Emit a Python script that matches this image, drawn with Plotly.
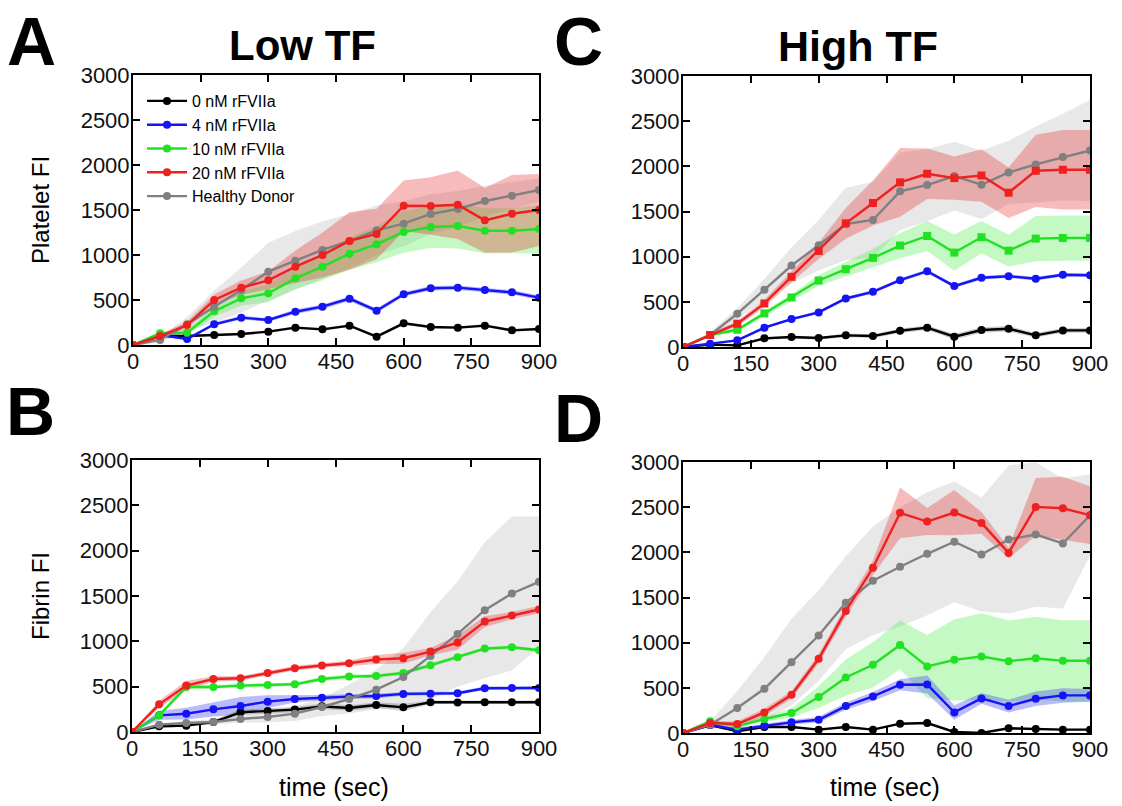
import plotly.graph_objects as go

W, H = 1122, 806

t = [0, 60, 120, 180, 240, 300, 360, 420, 480, 540, 600, 660, 720, 780, 840, 900]

series_names = ["0 nM rFVIIa", "4 nM rFVIIa", "10 nM rFVIIa", "20 nM rFVIIa", "Healthy Donor"]
x_ticks = [0, 150, 300, 450, 600, 750, 900]
y_ticks = [0, 500, 1000, 1500, 2000, 2500, 3000]

# Panel A: platelet FI, low TF
A_0 = [0, 100, 100, 111, 122, 148, 193, 174, 215, 93, 241, 200, 193, 215, 163, 178]
A_4 = [0, 111, 67, 230, 304, 278, 370, 426, 515, 381, 563, 630, 637, 611, 585, 526]
A_10 = [0, 130, 137, 374, 519, 574, 741, 870, 1015, 1119, 1256, 1311, 1322, 1270, 1270, 1289]
A_20 = [0, 100, 222, 500, 637, 719, 870, 1000, 1156, 1233, 1548, 1544, 1559, 1385, 1459, 1500]
A_HD = [0, 56, 230, 426, 611, 815, 937, 1056, 1156, 1274, 1348, 1456, 1511, 1600, 1659, 1722]
A_0_sd = [0, 12, 12, 12, 12, 12, 15, 15, 15, 15, 15, 15, 15, 15, 15, 15]
A_4_sd = [0, 15, 15, 20, 20, 20, 25, 25, 25, 25, 25, 25, 25, 25, 25, 25]
A_10_sd = [0, 20, 30, 60, 80, 100, 120, 150, 180, 200, 230, 230, 250, 250, 250, 270]
A_20_sd = [0, 20, 40, 60, 80, 100, 180, 250, 320, 280, 280, 320, 380, 360, 430, 400]
A_HD_sd = [0, 30, 80, 180, 250, 320, 330, 320, 300, 280, 250, 220, 200, 170, 150, 130]

# Panel C: platelet FI, high TF
C_0 = [0, 26, 18, 96, 110, 99, 129, 121, 180, 214, 114, 188, 202, 129, 184, 184]
C_4 = [0, 37, 74, 214, 309, 383, 537, 611, 740, 839, 674, 766, 784, 755, 799, 795]
C_10 = [0, 133, 191, 372, 548, 736, 861, 986, 1123, 1229, 1045, 1215, 1067, 1200, 1207, 1207]
C_20 = [0, 133, 258, 482, 777, 1064, 1369, 1594, 1822, 1918, 1870, 1899, 1708, 1951, 1962, 1962]
C_HD = [0, 133, 368, 633, 902, 1126, 1362, 1406, 1723, 1793, 1892, 1796, 1933, 2021, 2102, 2175]
C_0_sd = [0, 10, 10, 15, 15, 15, 20, 20, 25, 25, 30, 30, 30, 25, 25, 25]
C_4_sd = [0, 10, 12, 15, 15, 18, 20, 20, 20, 20, 20, 20, 20, 20, 20, 20]
C_10_sd = [0, 15, 20, 30, 40, 60, 80, 100, 140, 165, 200, 180, 175, 250, 250, 250]
C_20_sd = [0, 20, 30, 40, 60, 90, 170, 250, 380, 280, 240, 290, 280, 400, 440, 440]
C_HD_sd = [0, 30, 60, 120, 200, 280, 400, 420, 430, 400, 380, 380, 350, 420, 480, 560]

# Panel B: fibrin FI, low TF
B_0 = [0, 63, 70, 110, 217, 232, 247, 283, 265, 298, 272, 328, 324, 328, 328, 328]
B_4 = [0, 184, 202, 250, 287, 335, 364, 379, 390, 397, 420, 423, 427, 482, 486, 486]
B_10 = [0, 184, 497, 497, 512, 519, 526, 585, 611, 618, 651, 736, 825, 920, 935, 902]
B_20 = [0, 305, 512, 585, 593, 651, 703, 733, 758, 799, 814, 887, 987, 1218, 1285, 1351]
B_HD = [0, 81, 99, 110, 144, 166, 202, 276, 364, 467, 607, 839, 1082, 1344, 1528, 1656]
B_0_sd = [0, 15, 15, 20, 30, 30, 30, 30, 30, 30, 40, 20, 20, 20, 20, 20]
B_4_sd = [0, 50, 65, 80, 100, 70, 40, 30, 25, 25, 20, 20, 20, 20, 20, 20]
B_10_sd = [0, 20, 30, 20, 20, 20, 20, 25, 25, 20, 20, 20, 20, 20, 20, 20]
B_20_sd = [0, 40, 50, 30, 25, 25, 25, 25, 30, 50, 60, 40, 80, 60, 40, 40]
B_HD_sd = [0, 15, 20, 30, 40, 60, 80, 100, 160, 220, 320, 480, 580, 750, 850, 720]

# Panel D: fibrin FI, high TF
D_0 = [0, 88, 18, 66, 66, 37, 66, 37, 103, 110, 11, 0, 52, 44, 37, 37]
D_4 = [0, 88, 37, 81, 118, 147, 298, 405, 534, 537, 228, 383, 298, 379, 416, 416]
D_10 = [0, 129, 74, 155, 221, 398, 615, 755, 975, 736, 810, 847, 795, 828, 799, 799]
D_20 = [0, 110, 99, 228, 423, 821, 1351, 1829, 2437, 2341, 2440, 2326, 1994, 2503, 2488, 2411]
D_HD = [0, 92, 276, 490, 784, 1079, 1443, 1686, 1840, 1984, 2117, 1976, 2142, 2197, 2098, 2411]
D_0_sd = [0, 10, 10, 10, 10, 10, 10, 10, 10, 10, 10, 10, 10, 10, 10, 10]
D_4_sd = [0, 20, 20, 20, 25, 30, 40, 50, 60, 100, 80, 60, 70, 80, 80, 70]
D_10_sd = [0, 15, 20, 30, 50, 120, 200, 250, 270, 350, 450, 480, 450, 460, 450, 450]
D_20_sd = [0, 20, 30, 40, 40, 50, 60, 80, 280, 150, 250, 120, 60, 320, 350, 320]
D_HD_sd = [0, 40, 190, 350, 480, 500, 515, 600, 660, 680, 670, 630, 820, 800, 720, 450]

line_colors = ["#000000", "#1414f5", "#22e022", "#ee2020", "#808080"]
band_colors = ["rgba(90,90,90,0.30)", "rgba(60,60,240,0.35)", "rgba(60,235,60,0.30)",
               "rgba(230,50,50,0.33)", "rgba(190,190,190,0.35)"]

FONT = "Arial, Liberation Sans, sans-serif"

panels = [
    # name, means, sds, x-domain px, y-domain px (top, bottom), symbols
    ("A", [A_0, A_4, A_10, A_20, A_HD], [A_0_sd, A_4_sd, A_10_sd, A_20_sd, A_HD_sd],
     (133, 539), (75, 345), ["circle"] * 5),
    ("C", [C_0, C_4, C_10, C_20, C_HD], [C_0_sd, C_4_sd, C_10_sd, C_20_sd, C_HD_sd],
     (683, 1090), (76, 347), ["circle", "circle", "square", "square", "circle"]),
    ("B", [B_0, B_4, B_10, B_20, B_HD], [B_0_sd, B_4_sd, B_10_sd, B_20_sd, B_HD_sd],
     (132, 539), (460, 732), ["circle"] * 5),
    ("D", [D_0, D_4, D_10, D_20, D_HD], [D_0_sd, D_4_sd, D_10_sd, D_20_sd, D_HD_sd],
     (683, 1090), (462, 733), ["circle"] * 5),
]


def standoff_ok(v):
    try:
        go.layout.XAxis(ticklabelstandoff=v)
        go.layout.YAxis(ticklabelstandoff=v)
        return v
    except Exception:
        return 0


x_standoff = standoff_ok(-4)
y_standoff = standoff_ok(-3)

fig = go.Figure()
layout_axes = {}

band_order = [4, 2, 3, 1, 0]
line_order = [0, 1, 2, 4, 3]

for i, (name, means, sds, (x0, x1), (ytop, ybot), symbols) in enumerate(panels):
    idx = "" if i == 0 else str(i + 1)
    xa, ya = "x" + idx, "y" + idx
    for k in band_order:
        m, s = means[k], sds[k]
        upper = [a + b for a, b in zip(m, s)]
        lower = [a - b for a, b in zip(m, s)]
        fig.add_trace(go.Scatter(
            x=t + t[::-1], y=upper + lower[::-1], fill="toself",
            fillcolor=band_colors[k], line=dict(width=0), mode="lines",
            hoverinfo="skip", showlegend=False, xaxis=xa, yaxis=ya))
    for k in line_order:
        fig.add_trace(go.Scatter(
            x=t, y=means[k], mode="lines+markers", name=series_names[k],
            line=dict(color=line_colors[k], width=2.4),
            marker=dict(color=line_colors[k], size=8, symbol=symbols[k]),
            showlegend=(i == 0), legendrank=k, xaxis=xa, yaxis=ya))
    axis_common = dict(showline=True, linewidth=2, linecolor="black", mirror="ticks",
                       ticks="inside", ticklen=7, tickwidth=2, tickcolor="black",
                       showgrid=False, zeroline=False, automargin=False,
                       tickfont=dict(family=FONT, size=22, color="#111111"))
    layout_axes["xaxis" + idx] = dict(axis_common, domain=[x0 / W, x1 / W], range=[0, 900],
                                      tickvals=x_ticks, anchor=ya, ticklabelstandoff=x_standoff)
    layout_axes["yaxis" + idx] = dict(axis_common, domain=[1 - ybot / H, 1 - ytop / H],
                                      range=[0, 3000], tickvals=y_ticks, anchor=xa,
                                      ticklabelstandoff=y_standoff)

fig.update_layout(**layout_axes)


def ann(text, x, y, size, bold=False, angle=0):
    return dict(text=("<b>%s</b>" % text) if bold else text, x=x / W, y=1 - y / H,
                xref="paper", yref="paper", showarrow=False, textangle=angle,
                font=dict(family=FONT, size=size, color="black"),
                xanchor="center", yanchor="middle")


annotations = [
    ann("A", 31, 41, 68, True),
    ann("C", 578, 41, 68, True),
    ann("B", 30, 411, 68, True),
    ann("D", 578, 418, 68, True),
    ann("Low TF", 302, 46, 42, True),
    ann("High TF", 858, 46, 43, True),
    ann("Platelet FI", 40, 210, 24, angle=-90),
    ann("Fibrin FI", 40, 596, 24, angle=-90),
    ann("time (sec)", 334, 787, 25),
    ann("time (sec)", 885, 787, 25),
]

fig.update_layout(
    width=W, height=H, margin=dict(l=0, r=0, t=0, b=0, autoexpand=False),
    paper_bgcolor="white", plot_bgcolor="white",
    annotations=annotations,
    legend=dict(x=142 / W, y=1 - 84 / H, xanchor="left", yanchor="top",
                bgcolor="rgba(0,0,0,0)", font=dict(family=FONT, size=16, color="black"),
                itemwidth=40, tracegroupgap=0),
    showlegend=True,
)

fig.write_html("out.html", config={"displayModeBar": False},
               post_script="document.body.style.margin='0px';document.body.style.overflow='hidden';")
